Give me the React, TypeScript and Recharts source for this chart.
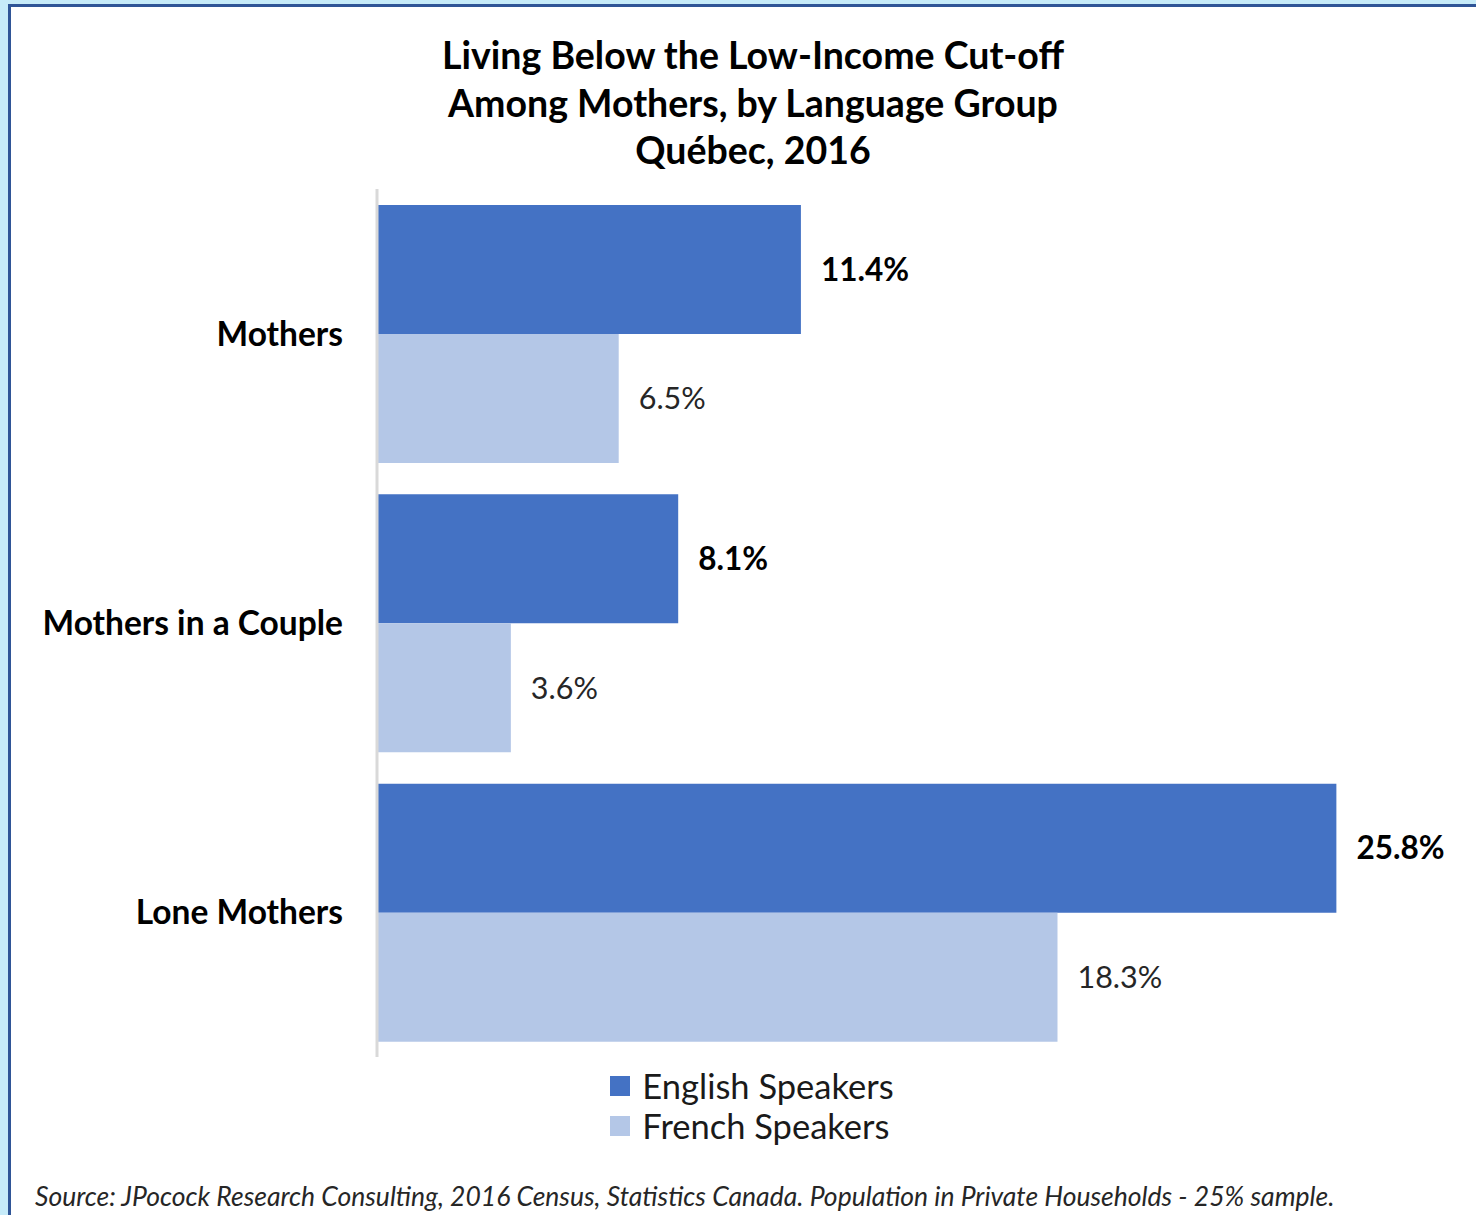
import React from 'react'
import { BarChart, Bar, XAxis, YAxis, Legend, LabelList } from 'recharts'

const categories = ['Mothers', 'Mothers in a Couple', 'Lone Mothers']
const englishSpeakers = [11.4, 8.1, 25.8]
const frenchSpeakers = [6.5, 3.6, 18.3]
const titleLines = ['Living Below the Low-Income Cut-off', 'Among Mothers, by Language Group', 'Québec, 2016']
const sourceNote =
  'Source: JPocock Research Consulting, 2016 Census, Statistics Canada. Population in Private Households - 25% sample.'

const data = categories.map((name, i) => ({
  name,
  english: englishSpeakers[i],
  french: frenchSpeakers[i],
}))

const FONT = 'Lato, "Open Sans", sans-serif'
const ENGLISH = '#4472c4'
const FRENCH = '#b4c7e7'

const pct = (v: number) => `${v.toFixed(1)}%`

// stacked legend, squares lined up on the left
const renderLegend = (props: any) => {
  const { payload = [] } = props
  return (
    <div style={{ paddingLeft: 28, fontFamily: FONT }}>
      {payload.map((entry: any) => (
        <div
          key={entry.value}
          style={{ display: 'flex', alignItems: 'center', height: 40, whiteSpace: 'nowrap' }}
        >
          <span style={{ width: 20, height: 20, background: entry.color, marginRight: 12 }} />
          <span style={{ fontSize: 34.5, color: '#1a1a1a', lineHeight: '40px' }}>{entry.value}</span>
        </div>
      ))}
    </div>
  )
}

const App: React.FC = () => {
  return (
    <div
      style={{
        position: 'absolute',
        top: 0,
        left: 0,
        width: 1476,
        height: 1215,
        background: '#c6ebf9',
        overflow: 'hidden',
        fontFamily: FONT,
      }}
    >
      <div
        style={{
          position: 'absolute',
          top: 4,
          left: 8,
          width: 1500,
          height: 1250,
          background: '#fff',
          border: '3px solid #2f5597',
          boxSizing: 'border-box',
        }}
      />
      <div
        style={{
          position: 'absolute',
          top: 31,
          left: 253,
          width: 1000,
          textAlign: 'center',
          fontWeight: 700,
          fontSize: 37.5,
          lineHeight: '47.5px',
          color: '#000',
        }}
      >
        {titleLines.map((t) => (
          <div key={t}>{t}</div>
        ))}
      </div>
      <div style={{ position: 'absolute', top: 0, left: 0 }}>
        <BarChart
          width={1476}
          height={1160}
          data={data}
          layout="vertical"
          barCategoryGap={16}
          barGap={0}
          margin={{ top: 189, right: 95, left: 0, bottom: 14 }}
        >
          <XAxis type="number" domain={[0, 27]} hide />
          <YAxis
            type="category"
            dataKey="name"
            width={377}
            tickSize={0}
            tickMargin={34}
            axisLine={{ stroke: '#d9d9d9', strokeWidth: 3 }}
            tick={{ fontSize: 33.5, fontWeight: 700, fill: '#000', fontFamily: FONT }}
          />
          <Legend
            layout="vertical"
            verticalAlign="bottom"
            align="center"
            content={renderLegend}
            wrapperStyle={{ paddingTop: 9 }}
          />
          <Bar dataKey="english" name="English Speakers" fill={ENGLISH} isAnimationActive={false}>
            <LabelList
              dataKey="english"
              position="right"
              offset={20}
              formatter={(v: number) => pct(v)}
              style={{ fontSize: 31.5, fontWeight: 700, fill: '#000', fontFamily: FONT }}
            />
          </Bar>
          <Bar dataKey="french" name="French Speakers" fill={FRENCH} isAnimationActive={false}>
            <LabelList
              dataKey="french"
              position="right"
              offset={20}
              formatter={(v: number) => pct(v)}
              style={{ fontSize: 30.5, fontWeight: 400, fill: '#262626', fontFamily: FONT }}
            />
          </Bar>
        </BarChart>
      </div>
      <div
        style={{
          position: 'absolute',
          top: 1180,
          left: 35,
          fontStyle: 'italic',
          fontSize: 26.5,
          lineHeight: '32px',
          color: '#262626',
          whiteSpace: 'nowrap',
        }}
      >
        {sourceNote}
      </div>
    </div>
  )
}

export default App
